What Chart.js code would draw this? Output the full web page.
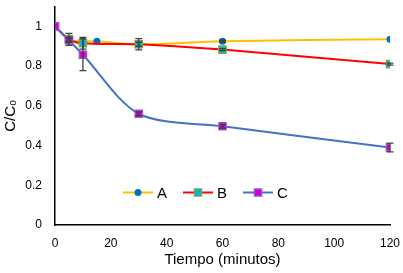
<!DOCTYPE html>
<html>
<head>
<meta charset="utf-8">
<script src="https://cdn.jsdelivr.net/npm/chart.js@4"></script>
<style>
  html, body { margin: 0; padding: 0; background: #fff; }
  #wrap { width: 403px; height: 273px; }
</style>
</head>
<body>
<div id="wrap"><canvas id="chart" width="403" height="273"></canvas></div>
<script>
// data
const labels = ["A", "B", "C"];
const timeA = [0, 5, 10, 15, 30, 60, 120];
const valA  = [1, 0.935, 0.925, 0.925, 0.91, 0.925, 0.935];
const errA  = [0, 0.03, 0, 0, 0.028, 0.005, 0];
const timeB = [0, 5, 10, 30, 60, 120];
const valB  = [1, 0.935, 0.915, 0.91, 0.883, 0.81];
const errB  = [0, 0.01, 0.03, 0.01, 0.005, 0.005];
const timeC = [0, 5, 10, 30, 60, 120];
const valC  = [1, 0.93, 0.857, 0.56, 0.497, 0.39];
const errC  = [0, 0.01, 0.08, 0.01, 0.01, 0.022];
const xTicks = [0, 20, 40, 60, 80, 100, 120];
const yTicks = [0, 0.2, 0.4, 0.6, 0.8, 1];

function pts(t, v) { return t.map((x, i) => ({x: x, y: v[i]})); }

const FONT = "'Liberation Sans', Arial, sans-serif";

// error bars
const errorBars = {
  id: 'errorBars',
  afterDatasetsDraw(chart) {
    const ctx = chart.ctx;
    const xs = chart.scales.x, ys = chart.scales.y;
    ctx.save();
    ctx.strokeStyle = '#404040';
    ctx.lineWidth = 1.3;
    chart.data.datasets.forEach(ds => {
      ds.data.forEach((p, i) => {
        const e = ds.err[i];
        if (!e) return;
        const px = xs.getPixelForValue(p.x);
        const y1 = ys.getPixelForValue(p.y - e);
        const y2 = ys.getPixelForValue(p.y + e);
        ctx.beginPath();
        ctx.moveTo(px, y1); ctx.lineTo(px, y2);
        ctx.moveTo(px - 3.5, y1); ctx.lineTo(px + 3.5, y1);
        ctx.moveTo(px - 3.5, y2); ctx.lineTo(px + 3.5, y2);
        ctx.stroke();
      });
    });
    ctx.restore();
  }
};

// legend inside the plot area
const innerLegend = {
  id: 'innerLegend',
  afterDraw(chart) {
    const ctx = chart.ctx;
    const area = chart.chartArea;
    const y = area.top + 186;
    let x = area.left + 68;
    ctx.save();
    chart.data.datasets.forEach(ds => {
      ctx.strokeStyle = ds.borderColor;
      ctx.lineWidth = 2;
      ctx.beginPath();
      ctx.moveTo(x, y); ctx.lineTo(x + 30, y);
      ctx.stroke();
      ctx.fillStyle = ds.pointBackgroundColor;
      ctx.strokeStyle = ds.pointBorderColor;
      ctx.lineWidth = ds.pointBorderWidth;
      ctx.beginPath();
      if (ds.pointStyle === 'circle') {
        ctx.arc(x + 15, y, ds.pointRadius, 0, Math.PI * 2);
      } else {
        const s = ds.pointRadius * Math.SQRT1_2;
        ctx.rect(x + 15 - s, y - s, 2 * s, 2 * s);
      }
      ctx.fill();
      if (ds.pointBorderWidth) ctx.stroke();
      ctx.fillStyle = '#000';
      ctx.font = '15px ' + FONT;
      ctx.textBaseline = 'middle';
      ctx.fillText(ds.label, x + 34, y + 1);
      x += 60;
    });
    ctx.restore();
  }
};

function noPad(s) {
  s.paddingTop = 0; s.paddingBottom = 0; s.paddingLeft = 0; s.paddingRight = 0;
}

const ctx = document.getElementById('chart').getContext('2d');
new Chart(ctx, {
  type: 'line',
  data: {
    datasets: [
      {
        label: labels[0], data: pts(timeA, valA), err: errA, order: 3,
        borderColor: '#FFC000', borderWidth: 2, tension: 0.35,
        pointStyle: 'circle', pointRadius: 3.5, pointBorderWidth: 0,
        pointBackgroundColor: '#0070C0', pointBorderColor: '#0070C0'
      },
      {
        label: labels[1], data: pts(timeB, valB), err: errB, order: 2,
        borderColor: '#FF0000', borderWidth: 2, tension: 0.35,
        pointStyle: 'rect', pointRadius: 5, pointBorderWidth: 1.5,
        pointBackgroundColor: '#00B0F0', pointBorderColor: '#70AD47'
      },
      {
        label: labels[2], data: pts(timeC, valC), err: errC, order: 1,
        borderColor: '#4472C4', borderWidth: 2, tension: 0.3,
        pointStyle: 'rect', pointRadius: 5, pointBorderWidth: 1.5,
        pointBackgroundColor: '#CC00CC', pointBorderColor: '#A64FD6'
      }
    ]
  },
  options: {
    responsive: false,
    animation: false,
    layout: { padding: { top: 3, right: 13, left: 0, bottom: 0 } },
    plugins: {
      legend: { display: false },
      tooltip: { enabled: false }
    },
    scales: {
      x: {
        type: 'linear', min: 0, max: 120,
        grid: { display: false, drawTicks: false },
        border: { color: '#000', width: 1.5 },
        afterBuildTicks: s => { s.ticks = xTicks.map(v => ({value: v})); },
        afterFit: s => { s.height = 48; noPad(s); },
        ticks: { padding: 11, color: '#000', font: { family: FONT, size: 12 }, maxRotation: 0 },
        title: { display: true, text: 'Tiempo (minutos)', color: '#000',
                 font: { family: FONT, size: 15 }, padding: { top: 1 } }
      },
      y: {
        type: 'linear', min: 0, max: 1.1,
        grid: { display: false, drawTicks: false },
        border: { color: '#000', width: 1.5 },
        afterBuildTicks: s => { s.ticks = yTicks.map(v => ({value: v})); },
        afterFit: s => { s.width = 55; noPad(s); },
        ticks: { padding: 13, color: '#000', font: { family: FONT, size: 12 },
                 callback: v => String(Math.round(v * 10) / 10) },
        title: { display: true, text: 'C/C₀', color: '#000',
                 font: { family: FONT, size: 15 }, padding: { top: 2 } }
      }
    }
  },
  plugins: [errorBars, innerLegend]
});
</script>
</body>
</html>
